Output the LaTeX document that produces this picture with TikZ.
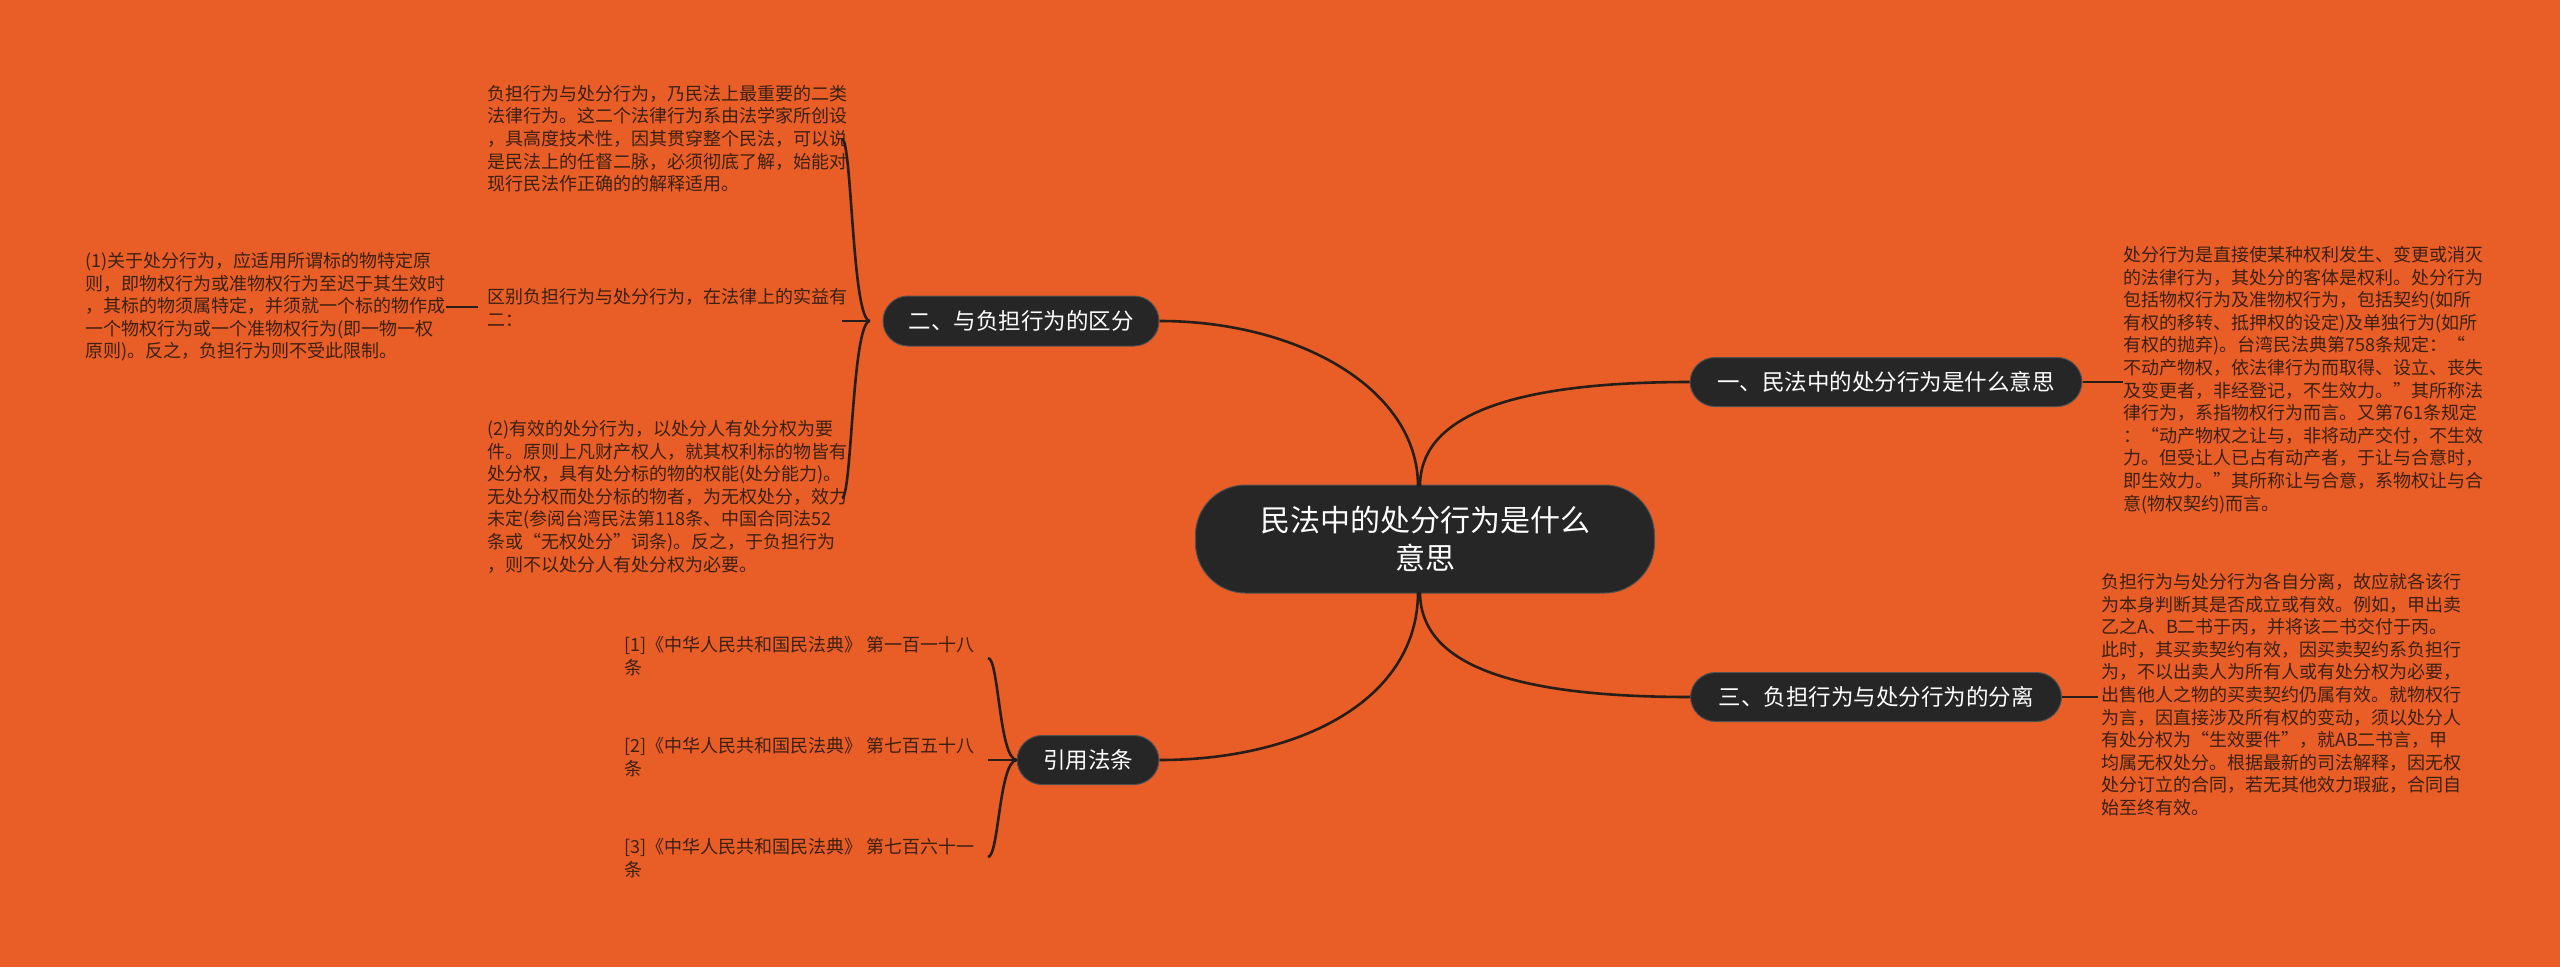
\documentclass[tikz,border=0pt]{standalone}
\usepackage{fontspec}
\setmainfont{Noto Sans CJK SC}
\begin{document}
\begin{tikzpicture}[x=1pt,y=-1pt,
  bg/.style={fill=orange!0, fill={rgb,255:red,233;green,94;blue,38}},
  pill/.style={fill={rgb,255:red,38;green,38;blue,38},draw={rgb,255:red,80;green,80;blue,80},line width=1pt,rounded corners=25pt,text=white,inner xsep=18pt,inner ysep=8pt,font=\fontsize{22.5}{27}\selectfont},
  leaf/.style={anchor=north west,inner sep=0pt,align=left,text={rgb,255:red,60;green,32;blue,18},font=\fontsize{18}{22.6}\selectfont},
  conn/.style={draw={rgb,255:red,40;green,30;blue,25},line width=2.6pt}]
\fill[bg] (0,0) rectangle (2560,967);
\useasboundingbox (0,0) rectangle (2560,967);
% center
\node[pill,rounded corners=50pt,minimum width=459pt,minimum height=108pt,align=center,font=\fontsize{30}{38}\selectfont,inner xsep=30pt] (c) at (1425,539) {民法中的处分行为是什么\\意思};
% branches
\node[pill,minimum width=392pt,minimum height=49pt] (b1) at (1886,382) {一、民法中的处分行为是什么意思};
\node[pill,minimum width=371pt,minimum height=49pt] (b3) at (1876,697) {三、负担行为与处分行为的分离};
\node[pill,minimum width=276pt,minimum height=50pt] (b2) at (1021,321) {二、与负担行为的区分};
\node[pill,minimum width=142pt,minimum height=49pt] (b4) at (1088,760) {引用法条};
\draw[conn] (1420,486) .. controls (1420,420) and (1500,382) .. (b1.west);
\draw[conn] (1420,592) .. controls (1420,660) and (1500,697) .. (b3.west);
\draw[conn] (1418,486) .. controls (1418,390) and (1300,321) .. (b2.east);
\draw[conn] (1418,592) .. controls (1418,700) and (1300,760) .. (b4.east);
% right texts
\node[leaf] (t1) at (2123,246) {处分行为是直接使某种权利发生、变更或消灭\\的法律行为，其处分的客体是权利。处分行为\\包括物权行为及准物权行为，包括契约(如所\\有权的移转、抵押权的设定)及单独行为(如所\\有权的抛弃)。台湾民法典第758条规定：“\\不动产物权，依法律行为而取得、设立、丧失\\及变更者，非经登记，不生效力。”其所称法\\律行为，系指物权行为而言。又第761条规定\\：“动产物权之让与，非将动产交付，不生效\\力。但受让人已占有动产者，于让与合意时，\\即生效力。”其所称让与合意，系物权让与合\\意(物权契约)而言。};
\node[leaf] (t3) at (2101,573) {负担行为与处分行为各自分离，故应就各该行\\为本身判断其是否成立或有效。例如，甲出卖\\乙之A、B二书于丙，并将该二书交付于丙。\\此时，其买卖契约有效，因买卖契约系负担行\\为，不以出卖人为所有人或有处分权为必要，\\出售他人之物的买卖契约仍属有效。就物权行\\为言，因直接涉及所有权的变动，须以处分人\\有处分权为“生效要件”，就AB二书言，甲\\均属无权处分。根据最新的司法解释，因无权\\处分订立的合同，若无其他效力瑕疵，合同自\\始至终有效。};
\draw[conn] (b1.east) -- (t1.west |- b1.east) ++(-9,0) coordinate (e1);
\draw[conn] (b3.east) -- ++(36,0);
% left texts
\node[leaf] (l1) at (487,85) {负担行为与处分行为，乃民法上最重要的二类\\法律行为。这二个法律行为系由法学家所创设\\，具高度技术性，因其贯穿整个民法，可以说\\是民法上的任督二脉，必须彻底了解，始能对\\现行民法作正确的的解释适用。};
\node[leaf] (l2) at (487,288) {区别负担行为与处分行为，在法律上的实益有\\二：};
\node[leaf] (l3) at (487,420) {(2)有效的处分行为，以处分人有处分权为要\\件。原则上凡财产权人，就其权利标的物皆有\\处分权，具有处分标的物的权能(处分能力)。\\无处分权而处分标的物者，为无权处分，效力\\未定(参阅台湾民法第118条、中国合同法52\\条或“无权处分”词条)。反之，于负担行为\\，则不以处分人有处分权为必要。};
\node[leaf] (l4) at (85,252) {(1)关于处分行为，应适用所谓标的物特定原\\则，即物权行为或准物权行为至迟于其生效时\\，其标的物须属特定，并须就一个标的物作成\\一个物权行为或一个准物权行为(即一物一权\\原则)。反之，负担行为则不受此限制。};
\coordinate (p2) at (870,321);
\draw[conn] (p2) .. controls (852,321) and (852,139) .. (842,139);
\draw[conn] (p2) -- (842,321);
\draw[conn] (p2) .. controls (852,321) and (852,498) .. (842,498);
\draw[conn] (478,307) -- (446,307);
% references
\node[leaf] (r1) at (624,636) {[1]《中华人民共和国民法典》 第一百一十八\\条};
\node[leaf] (r2) at (624,737) {[2]《中华人民共和国民法典》 第七百五十八\\条};
\node[leaf] (r3) at (624,838) {[3]《中华人民共和国民法典》 第七百六十一\\条};
\coordinate (p4) at (1017,760);
\draw[conn] (p4) .. controls (999,760) and (999,658) .. (988,658);
\draw[conn] (p4) -- (988,760);
\draw[conn] (p4) .. controls (999,760) and (999,857) .. (988,857);
\end{tikzpicture}
\end{document}
